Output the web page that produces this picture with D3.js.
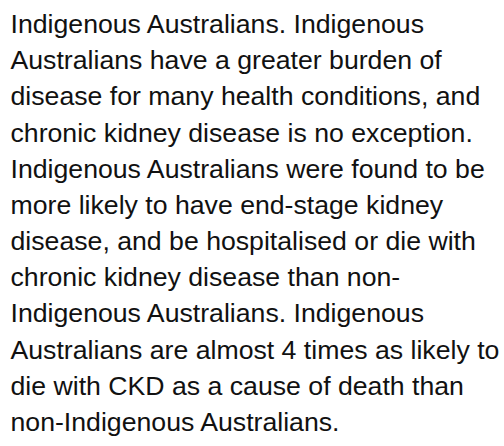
<!DOCTYPE html>
<html>
<head>
<meta charset="utf-8">
<script src="https://cdn.jsdelivr.net/npm/d3@7"></script>
<style>
  body { margin: 0; background: #fff; }
</style>
</head>
<body>
<div id="para"></div>
<script>
const width = 504, height = 446;

// paragraph lines, as wrapped in the reference
const lines = [
  "Indigenous Australians. Indigenous",
  "Australians have a greater burden of",
  "disease for many health conditions, and",
  "chronic kidney disease is no exception.",
  "Indigenous Australians were found to be",
  "more likely to have end-stage kidney",
  "disease, and be hospitalised or die with",
  "chronic kidney disease than non-",
  "Indigenous Australians. Indigenous",
  "Australians are almost 4 times as likely to",
  "die with CKD as a cause of death than",
  "non-Indigenous Australians."
];

const svg = d3.select("#para")
  .append("svg")
  .attr("width", width)
  .attr("height", height);

const y = d3.scalePoint()
  .domain(d3.range(lines.length))
  .range([33, 431]);

svg.append("g")
  .selectAll("text")
  .data(lines)
  .join("text")
  .attr("x", 10.5)
  .attr("y", (d, i) => y(i))
  .style("font-family", "'Liberation Sans', Arial, sans-serif")
  .style("font-size", "26.67px")
  .style("fill", "#111")
  .text(d => d);
</script>
</body>
</html>
